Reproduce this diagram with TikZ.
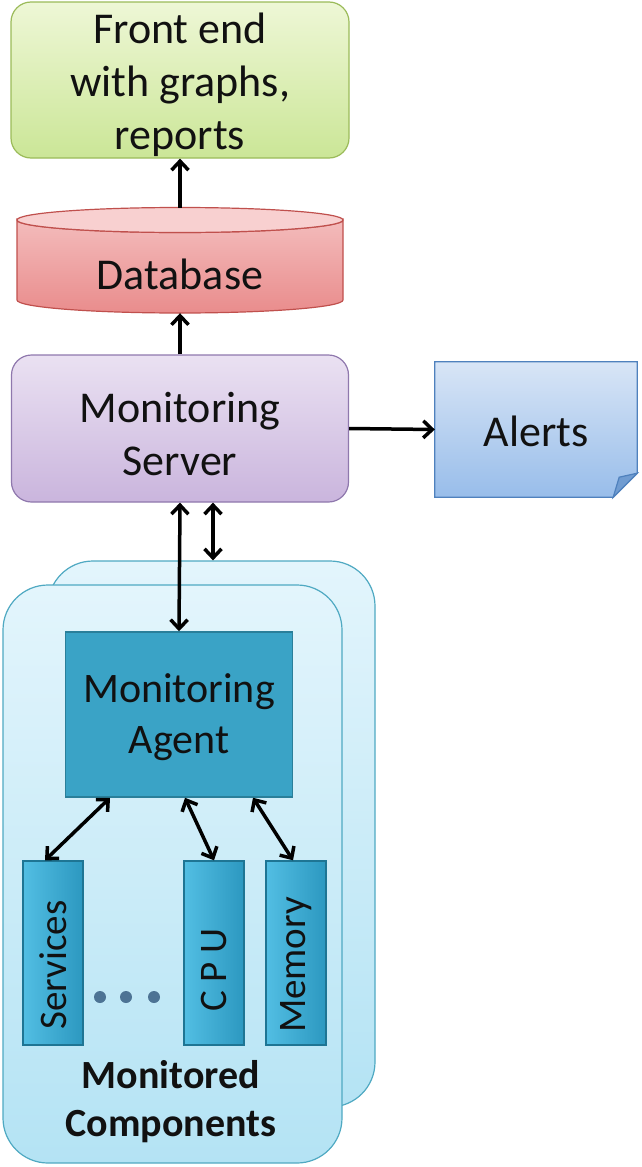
\documentclass[tikz,border=0pt]{standalone}
\usepackage{fontspec}
\setmainfont{Carlito}
\usetikzlibrary{arrows.meta,calc}
\definecolor{feTop}{HTML}{EEF7D6}
\definecolor{feBot}{HTML}{CBE697}
\definecolor{feLine}{HTML}{9BBB59}
\definecolor{dbTop}{HTML}{F8D0D0}
\definecolor{dbBot}{HTML}{E98C8C}
\definecolor{dbLine}{HTML}{C0504D}
\definecolor{svTop}{HTML}{EAE1F2}
\definecolor{svBot}{HTML}{CAB5DD}
\definecolor{svLine}{HTML}{8F78AD}
\definecolor{alTop}{HTML}{D8E5F6}
\definecolor{alBot}{HTML}{98BDEA}
\definecolor{alLine}{HTML}{4F81BD}
\definecolor{ctTop}{HTML}{E3F5FC}
\definecolor{ctBot}{HTML}{B4E3F4}
\definecolor{ctLine}{HTML}{4FA9C2}
\definecolor{agFill}{HTML}{3AA3C6}
\definecolor{agLine}{HTML}{2A7F9A}
\definecolor{cpTop}{HTML}{52BEE3}
\definecolor{cpBot}{HTML}{2C98C0}
\definecolor{cpLine}{HTML}{1E7594}
\definecolor{dotC}{HTML}{4D7394}
\definecolor{txt}{HTML}{111111}
\tikzset{
  bigtext/.style={font=\fontsize{44}{53}\selectfont, text=txt, align=center},
  roundbox/.style={rounded corners=20pt, line width=1.2pt},
  tip/.tip={Straight Barb[length=9pt,width=17pt,line width=3.5pt]},
  arr/.style={line width=3.5pt, -tip},
  dbl/.style={line width=3.5pt, tip-tip},
  comp/.style={rotate=90, minimum width=184pt, minimum height=60pt, inner sep=0pt,
    draw=cpLine, line width=1.4pt, top color=cpTop, bottom color=cpBot, shading angle=90,
    font=\fontsize{39}{45}\selectfont, text=txt},
  dotst/.style={circle, fill=dotC, minimum size=12pt, inner sep=0pt}
}
\begin{document}
\begin{tikzpicture}[x=1pt,y=-1pt]
\useasboundingbox (0,0) rectangle (641,1167);

% Front end
\node[roundbox, draw=feLine, top color=feTop, bottom color=feBot,
      minimum width=338pt, minimum height=156pt] (fe) at (180,80) {};
\node[bigtext] at (180,85) {Front end\\with graphs,\\reports};

% Database (cylinder drawn by hand)
\node[minimum width=326pt, minimum height=105pt, inner sep=0pt] (db) at (180,260.5) {};
\path[top color=dbTop!70!dbBot, bottom color=dbBot, draw=dbLine, line width=1.2pt]
  (17,220) -- (17,300) arc[start angle=180, end angle=360, x radius=163pt, y radius=13pt]
  -- (343,220) arc[start angle=0, end angle=180, x radius=163pt, y radius=-12.5pt] -- cycle;
\path[fill=dbTop, draw=dbLine, line width=1.2pt]
  (180,220) ellipse [x radius=163pt, y radius=12.5pt];
\node[bigtext] at (180,274) {Database};

% Monitoring server
\node[roundbox, draw=svLine, top color=svTop, bottom color=svBot,
      minimum width=337pt, minimum height=147pt] (srv) at (180,428.5) {};
\node[bigtext] at (180,434) {Monitoring\\Server};

% Alerts (note with folded corner)
\node[minimum width=202pt, minimum height=135pt, inner sep=0pt] (al) at (536,429.5) {};
\path[top color=alTop, bottom color=alBot, draw=alLine, line width=1.2pt]
  (al.north west) -- (al.north east) -- ($(al.south east)+(0,-24)$)
  -- ($(al.south east)+(-24,0)$) -- (al.south west) -- cycle;
\path[fill=alLine!55!alBot, draw=alLine, line width=1.2pt]
  ($(al.south east)+(0,-24)$) -- ($(al.south east)+(-24,0)$) -- ($(al.south east)+(-18,-20)$) -- cycle;
\node[bigtext] at (536,431) {Alerts};

% Containers
\node[draw=ctLine, line width=1.2pt, rounded corners=45pt, top color=ctTop, bottom color=ctBot,
      minimum width=327pt, minimum height=546pt] (back) at (211.5,834) {};
\node[draw=ctLine, line width=1.2pt, rounded corners=45pt, top color=ctTop, bottom color=ctBot,
      minimum width=339pt, minimum height=578pt] (front) at (172.5,874) {};

% Monitoring agent
\node[fill=agFill, draw=agLine, line width=1.5pt,
      minimum width=227pt, minimum height=165pt] (ag) at (179,714.5) {};
\node[bigtext, font=\fontsize{42}{51}\selectfont] at (179,717.5) {Monitoring\\Agent};

% Components
\node[comp] (svc) at (53,953) {Services\hspace*{24pt}};
\node[comp] (cpu) at (214,953) {C P U\hspace*{34pt}};
\node[comp] (mem) at (296,953) {Memory\hspace*{24pt}};
\node[dotst] (d1) at (100,997) {};
\node[dotst] (d2) at (126,997) {};
\node[dotst] (d3) at (154,997) {};

\node[font=\bfseries\fontsize{40}{48}\selectfont, text=txt, align=center] (mc) at (171,1102)
  {Monitored\\Components};

% Connectors
\draw[arr] (db.north) -- (fe.south);
\draw[arr] (srv.north) -- (db.south);
\draw[arr] (srv.east) -- (al.west);
\draw[dbl] (srv.south) -- (ag.north);
\draw[dbl] ($(srv.south)+(33,0)$) coordinate (s2) -- (s2 |- back.north);
\draw[dbl] ($(ag.south)+(-69,0)$) -- ($(svc.east)+(-8,0)$);
\draw[dbl] ($(ag.south)+(6,0)$) -- (cpu.east);
\draw[dbl] ($(ag.south)+(74,0)$) -- ($(mem.east)+(-3,0)$);
\end{tikzpicture}
\end{document}
